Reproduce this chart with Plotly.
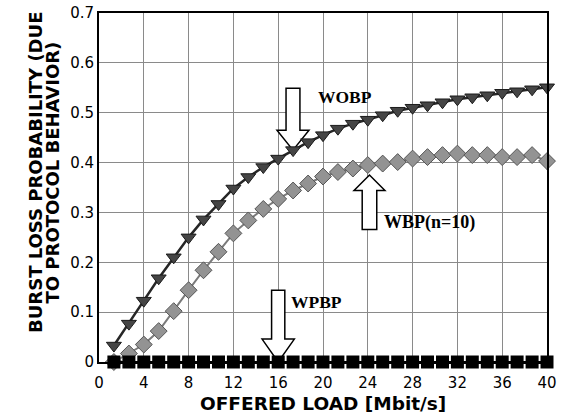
import plotly.graph_objects as go

# Offered load values (Mbit/s)
load = [1.33, 2.67, 4.0, 5.33, 6.67, 8.0, 9.33, 10.67, 12.0, 13.33,
        14.67, 16.0, 17.33, 18.67, 20.0, 21.33, 22.67, 24.0, 25.33, 26.67,
        28.0, 29.33, 30.67, 32.0, 33.33, 34.67, 36.0, 37.33, 38.67, 40.0]

wobp = [0.033, 0.077, 0.123, 0.168, 0.210, 0.250, 0.286, 0.317, 0.348, 0.371,
        0.391, 0.408, 0.425, 0.441, 0.455, 0.468, 0.478, 0.486, 0.495, 0.504,
        0.510, 0.515, 0.521, 0.527, 0.531, 0.535, 0.540, 0.543, 0.547, 0.551]

wbp = [0.000, 0.017, 0.035, 0.062, 0.102, 0.144, 0.184, 0.221, 0.258, 0.284,
       0.307, 0.327, 0.344, 0.358, 0.372, 0.381, 0.388, 0.395, 0.398, 0.401,
       0.408, 0.411, 0.415, 0.418, 0.415, 0.415, 0.411, 0.411, 0.415, 0.403]

wpbp = [0.0] * 30

x_ticks = [0, 4, 8, 12, 16, 20, 24, 28, 32, 36, 40]
y_ticks = [0, 0.1, 0.2, 0.3, 0.4, 0.5, 0.6, 0.7]
y_tick_labels = ["0", "0.1", "0.2", "0.3", "0.4", "0.5", "0.6", "0.7"]

fig = go.Figure()

fig.add_trace(go.Scatter(
    x=load, y=wbp, mode="lines+markers", name="WBP(n=10)",
    line=dict(color="#7a7a7a", width=2),
    marker=dict(symbol="diamond", size=13, color="#939393",
                line=dict(color="#555555", width=1)),
    cliponaxis=False))

fig.add_trace(go.Scatter(
    x=load, y=wobp, mode="lines+markers", name="WOBP",
    line=dict(color="#262626", width=2.5),
    marker=dict(symbol="triangle-down", size=13, color="#454545",
                line=dict(color="#1a1a1a", width=1)),
    cliponaxis=False))

fig.add_trace(go.Scatter(
    x=load, y=wpbp, mode="lines+markers", name="WPBP",
    line=dict(color="#000000", width=2),
    marker=dict(symbol="square", size=13, color="#000000",
                line=dict(color="#000000", width=0)),
    cliponaxis=False))


def arrow_path(xc, y_tail, y_base, y_tip, sw, hw):
    pts = [(xc - sw, y_tail), (xc + sw, y_tail), (xc + sw, y_base),
           (xc + hw, y_base), (xc, y_tip), (xc - hw, y_base),
           (xc - sw, y_base)]
    return "M " + " L ".join(f"{a},{b}" for a, b in pts) + " Z"


arrows = [
    (17.32, 0.549, 0.465, 0.425, 0.62, 1.43),   # WOBP (down)
    (24.15, 0.266, 0.344, 0.375, 0.65, 1.38),   # WBP (up)
    (16.00, 0.144, 0.046, 0.000, 0.59, 1.44),   # WPBP (down)
]
for a in arrows:
    fig.add_shape(type="path", path=arrow_path(*a), xref="x", yref="y",
                  fillcolor="white", line=dict(color="black", width=1.5),
                  layer="between")

lab_font = dict(family="Liberation Serif, Times New Roman, serif",
                color="black")
fig.add_annotation(x=22.0, y=0.531, text="<b>WOBP</b>", showarrow=False,
                   font=dict(size=17.5, **lab_font))
fig.add_annotation(x=29.55, y=0.280, text="<b>WBP(n=10)</b>", showarrow=False,
                   font=dict(size=18, **lab_font))
fig.add_annotation(x=19.44, y=0.121, text="<b>WPBP</b>", showarrow=False,
                   font=dict(size=17.5, **lab_font))

sans = "DejaVu Sans, Arial, sans-serif"
title_font = dict(family=sans, size=18, color="black")
fig.add_annotation(xref="paper", yref="paper", x=(35 - 99) / 448,
                   y=(362 - 173) / 349,
                   text="<b>BURST LOSS PROBABILITY (DUE</b>", textangle=-90,
                   showarrow=False, font=title_font,
                   xanchor="center", yanchor="middle")
fig.add_annotation(xref="paper", yref="paper", x=(51.5 - 99) / 448,
                   y=(362 - 173) / 349,
                   text="<b>TO PROTOCOL BEHAVIOR)</b>", textangle=-90,
                   showarrow=False, font=title_font,
                   xanchor="center", yanchor="middle")
fig.add_annotation(xref="paper", yref="paper", x=0.5, y=(362 - 403) / 349,
                   text="<b>OFFERED LOAD [Mbit/s]</b>", showarrow=False,
                   font=dict(family=sans, size=18.5, color="black"),
                   xanchor="center", yanchor="middle")

tick_font = dict(family=sans, size=15, color="black")
fig.update_xaxes(range=[0, 40], tickvals=x_ticks, showgrid=True,
                 gridcolor="#8a8a8a", gridwidth=1, showline=True,
                 linecolor="black", linewidth=2, mirror=True, ticks="",
                 zeroline=False, tickfont=tick_font, ticklabelstandoff=6)
fig.update_yaxes(range=[0, 0.7], tickvals=y_ticks, ticktext=y_tick_labels,
                 showgrid=True, gridcolor="#8a8a8a", gridwidth=1,
                 showline=True, linecolor="black", linewidth=2, mirror=True,
                 ticks="", zeroline=False, tickfont=tick_font)

fig.update_layout(
    width=564, height=416,
    margin=dict(l=99, r=17, t=13, b=54, autoexpand=False),
    paper_bgcolor="white", plot_bgcolor="white",
    showlegend=False,
)

fig.write_html("out.html")
